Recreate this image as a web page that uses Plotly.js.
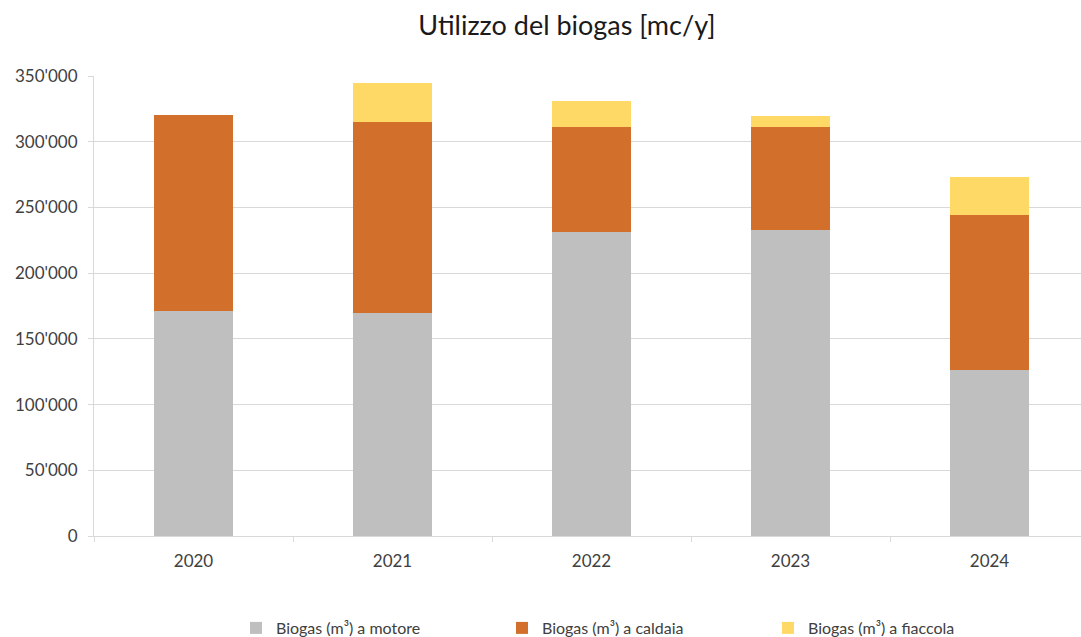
<!DOCTYPE html>
<html>
<head>
<meta charset="utf-8">
<script src="https://cdn.plot.ly/plotly-3.0.1.min.js"></script>
<style>
html,body{margin:0;padding:0;overflow:hidden;background:#fff;}
#chart{width:1092px;height:637px;}
</style>
</head>
<body>
<div id="chart"></div>
<script>
const years = ['2020', '2021', '2022', '2023', '2024'];
const motore = [171500, 169900, 231600, 232900, 126300];
const caldaia = [148500, 145400, 79700, 78400, 117700];
const fiaccola = [0, 29400, 19700, 8300, 29400];
const seriesNames = ['Biogas (m³) a motore', 'Biogas (m³) a caldaia', 'Biogas (m³) a fiaccola'];
const yTicks = [0, 50000, 100000, 150000, 200000, 250000, 300000, 350000];

const fontFam = 'Lato, "Open Sans", sans-serif';
const colors = ['#BFBFBF', '#D26F2A', '#FFD966'];
const vals = [motore, caldaia, fiaccola];

const traces = vals.map((v, i) => ({
  type: 'bar',
  x: years,
  y: v,
  name: seriesNames[i],
  marker: {color: colors[i]},
  hoverinfo: 'x+y+name'
}));

const layout = {
  width: 1092,
  height: 637,
  barmode: 'stack',
  bargap: 0.603,
  separators: ".'",
  paper_bgcolor: '#fff',
  plot_bgcolor: '#fff',
  margin: {l: 94, r: 3, t: 76, b: 101},
  font: {family: fontFam, color: '#404040', size: 16},
  title: {
    text: 'Utilizzo del biogas [mc/y]',
    font: {family: fontFam, size: 27, color: '#1a1a1a'},
    x: 567 / 1092,
    xref: 'container',
    xanchor: 'center',
    y: 1 - 26 / 637,
    yref: 'container',
    yanchor: 'middle'
  },
  xaxis: {
    type: 'category',
    showline: true,
    linecolor: '#D9D9D9',
    linewidth: 1,
    ticks: 'outside',
    tickson: 'boundaries',
    ticklen: 5,
    tickcolor: '#D9D9D9',
    ticklabelstandoff: 10,
    tickfont: {family: fontFam, size: 17, color: '#404040'},
    showgrid: false
  },
  yaxis: {
    range: [0, 350000],
    tickvals: yTicks,
    tickformat: ',d',
    showline: true,
    linecolor: '#D9D9D9',
    linewidth: 1,
    ticks: 'outside',
    ticklen: 5,
    tickcolor: '#D9D9D9',
    ticklabelstandoff: 7,
    gridcolor: '#D9D9D9',
    gridwidth: 1,
    zeroline: false,
    tickfont: {family: fontFam, size: 17, color: '#404040'}
  },
  legend: {
    orientation: 'h',
    x: 236 / 1092,
    xref: 'container',
    xanchor: 'left',
    y: 1 - 628 / 637,
    yref: 'container',
    yanchor: 'middle',
    traceorder: 'normal',
    itemwidth: 30,
    entrywidth: 221,
    entrywidthmode: 'pixels',
    font: {family: fontFam, size: 16, color: '#404040'}
  },
  showlegend: true
};

Plotly.newPlot('chart', traces, layout, {displayModeBar: false, staticPlot: true});
</script>
</body>
</html>
